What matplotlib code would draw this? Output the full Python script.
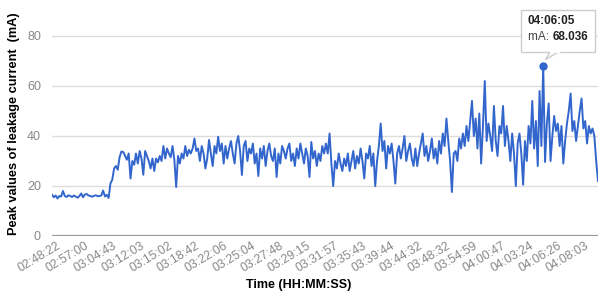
import numpy as np
import matplotlib.pyplot as plt
from matplotlib.patches import Rectangle, Polygon

# x tick labels (one every ~15 samples)
time_labels = ['02:48:22', '02:57:00', '03:04:43', '03:12:03', '03:15:02', '03:18:42',
               '03:22:06', '03:25:04', '03:27:48', '03:29:15', '03:31:57', '03:35:43',
               '03:39:44', '03:44:32', '03:48:32', '03:54:59', '04:00:47', '04:03:24',
               '04:06:26', '04:08:03']

# peak leakage current (mA)
current = [
    16.5, 15.5, 16.2, 15.0, 16.0, 15.8, 18.0, 16.0, 15.6, 16.3,
    16.0, 15.6, 16.2, 15.8, 15.3, 16.0, 17.0, 15.5, 16.6, 16.8,
    16.2, 16.0, 15.7, 16.1, 16.3, 15.9, 16.0, 16.2, 18.2, 15.8,
    16.5, 15.2, 21.0, 22.5, 27.0, 28.0, 26.5, 31.5, 33.8, 33.6,
    32.0, 30.5, 33.0, 23.0, 30.0, 28.5, 33.0, 29.0, 34.0, 31.0,
    24.5, 34.0, 32.0, 30.0, 27.0, 31.0, 26.0, 31.0, 29.5, 32.0,
    30.0, 36.0, 31.0, 35.0, 33.0, 31.5, 36.0, 30.5, 19.6, 32.0,
    29.0, 33.0, 31.0, 36.0, 32.0, 34.5, 33.0, 35.0, 39.0, 34.0,
    35.0, 30.0, 36.0, 33.0, 27.0, 31.0, 38.4, 33.0, 28.0, 36.0,
    33.0, 39.7, 34.0, 37.0, 29.0, 36.0, 31.0, 35.0, 38.0, 33.0,
    29.0, 37.0, 40.0, 34.0, 24.4, 36.0, 38.0, 30.0, 35.0, 33.0,
    37.0, 29.0, 33.0, 24.0, 35.0, 31.0, 36.0, 28.0, 34.0, 37.0,
    32.0, 30.0, 35.0, 23.6, 33.0, 29.0, 36.0, 34.0, 31.0, 35.0,
    37.0, 30.0, 33.0, 28.0, 35.0, 31.0, 37.0, 33.0, 29.0, 35.0,
    32.0, 23.6, 37.6, 31.0, 34.0, 28.0, 33.0, 30.0, 36.0, 33.0,
    37.0, 33.0, 41.0, 29.0, 20.0, 30.0, 27.0, 33.0, 29.0, 26.0,
    31.0, 28.0, 33.0, 26.0, 30.0, 34.0, 27.0, 32.0, 29.0, 35.0,
    30.0, 23.0, 33.0, 31.0, 36.0, 28.0, 33.0, 20.0, 30.0, 36.0,
    45.0, 34.0, 38.0, 27.0, 36.0, 33.0, 37.0, 30.0, 21.0, 33.0,
    36.0, 31.0, 35.0, 40.0, 30.0, 34.0, 37.0, 31.0, 28.0, 35.0,
    28.0, 33.0, 37.0, 41.0, 32.0, 36.0, 30.0, 34.0, 39.0, 31.0,
    35.0, 29.0, 38.0, 33.0, 41.0, 36.0, 47.0, 38.0, 30.0, 17.6,
    33.0, 34.0, 30.0, 39.0, 35.0, 41.0, 36.0, 44.0, 38.0, 46.0,
    54.0, 40.0, 47.0, 35.0, 49.0, 29.0, 44.0, 62.0, 38.0, 45.0,
    40.0, 34.0, 52.0, 38.0, 32.0, 44.0, 41.0, 52.0, 36.0, 44.0,
    38.0, 30.0, 41.0, 33.0, 20.0, 37.0, 41.0, 33.0, 20.5, 38.0,
    30.0, 44.0, 37.0, 54.0, 35.0, 46.0, 28.0, 58.0, 36.0, 68.036,
    29.6, 45.0, 53.0, 30.0, 40.0, 48.0, 42.0, 45.0, 36.0, 44.0,
    29.0, 38.0, 45.0, 50.0, 57.0, 42.0, 46.0, 38.0, 44.0, 50.0,
    55.0, 43.0, 46.0, 37.0, 44.0, 41.0, 43.0, 40.0, 30.0, 22.0,
]
peak_time = '04:06:05'

x = np.arange(len(current))
peak = int(np.argmax(current))

plt.rcParams['font.family'] = ['Liberation Sans', 'DejaVu Sans']
fig = plt.figure(figsize=(6, 2.98), dpi=100)
ax = fig.add_axes([52/600, 62/298, 546/600, 236/298])

ax.plot(x, current, color='#3366cc', lw=1.4, zorder=3)
ax.plot(peak, current[peak], 'o', color='#3366cc', ms=5, zorder=4)

n = len(current)
ax.set_xlim(0, n - 1)
ax.set_ylim(0, 94.4)
ax.set_yticks([0, 20, 40, 60, 80])
ticks = 2.7 + np.arange(len(time_labels)) * 15.22
ax.set_xticks(ticks)
ax.set_xticklabels(time_labels, rotation=31, ha='right', rotation_mode='anchor')
ax.tick_params(axis='both', length=0, colors='#888888')
ax.tick_params(axis='y', labelsize=9, pad=8)
ax.tick_params(axis='x', labelsize=8.8, pad=3)

for y in [20, 40, 60, 80]:
    ax.axhline(y, color='#dddddd', lw=1, zorder=0)
ax.axhline(0, color='#999999', lw=1.6, zorder=1)
for s in ax.spines.values():
    s.set_visible(False)

fig.text(0.023, 0.585, 'Peak values of leakage current  (mA)', fontsize=9.2,
         fontweight='bold', rotation=90, ha='center', va='center')
fig.text(0.497, 0.035, 'Time (HH:MM:SS)', fontsize=9, fontweight='bold', ha='center')

# tooltip box with tail pointing at the peak
bx0, bx1 = 256.8, 297.5
by0, by1 = 73.6, 90.4
ax.add_patch(Polygon([[peak + 4, by0 + 0.3], [peak + 1.2, current[peak] + 2.5],
                      [peak + 9, by0 + 0.3]], closed=True, fc='white', ec='#cccccc',
                     lw=1, zorder=5))
ax.add_patch(Rectangle((bx0, by0), bx1 - bx0, by1 - by0, fc='white', ec='#cccccc',
                       lw=1, zorder=5))
ax.plot([peak + 4.3, peak + 8.7], [by0, by0], color='white', lw=1.5, zorder=6)
ax.text(bx0 + 3.8, 86.0, peak_time, fontsize=8.5, fontweight='bold', color='#222222',
        va='center', zorder=7)
t = ax.text(bx0 + 3.8, 79.6, 'mA: ', fontsize=8.5, color='#444444', va='center', zorder=7)
fig.canvas.draw()
bb = t.get_window_extent()
x_end = ax.transData.inverted().transform((bb.x1, bb.y0))[0]
ax.text(x_end, 79.6, '%.3f' % current[peak], fontsize=8.5, fontweight='bold',
        color='#222222', va='center', zorder=7)

fig.savefig('out.png')
